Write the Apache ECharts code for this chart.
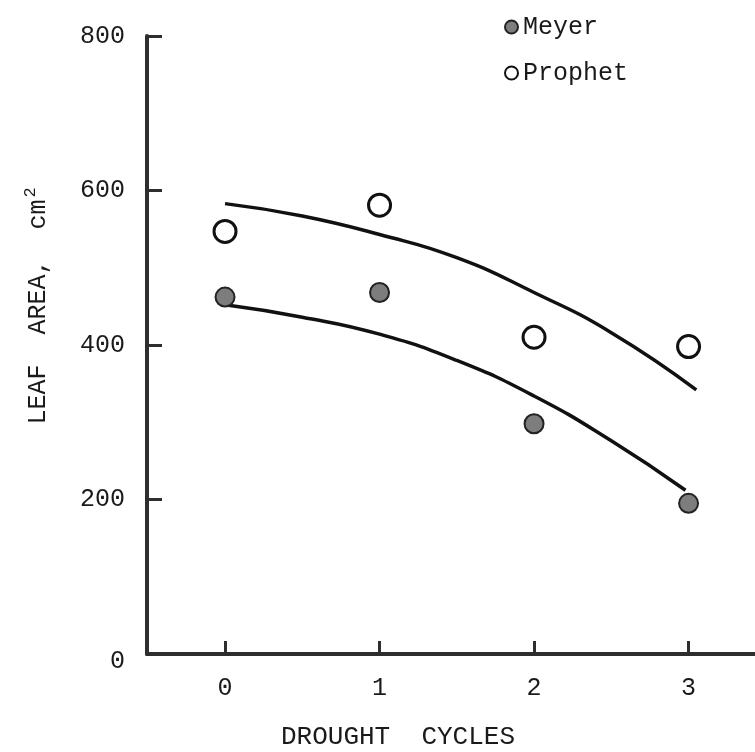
<!DOCTYPE html>
<html>
<head>
<meta charset="utf-8">
<script src="https://cdn.jsdelivr.net/npm/echarts@6/dist/echarts.min.js"></script>
<style>
  html, body { margin: 0; padding: 0; background: #fff; }
  #chart { width: 755px; height: 752px; }
</style>
</head>
<body>
<div id="chart"></div>
<script>
// Drought cycles on the x axis
const cycles = [0, 1, 2, 3];
const xTickLabels = ['0', '1', '2', '3'];
const yTickValues = [0, 200, 400, 600, 800];

// Measured leaf area (cm^2) per cultivar
const meyerArea = [462, 468, 298, 195];
const prophetArea = [547, 581, 410, 398];

// Fitted response curves, sampled along the drought-cycle axis
const meyerFitX = [0, 0.5, 1, 1.5, 2, 2.5, 2.98];
const meyerFitY = [452, 436, 414, 380, 334, 276, 212];
const prophetFitX = [0, 0.5, 1, 1.5, 2, 2.5, 3.05];
const prophetFitY = [583, 567, 543, 513, 468, 416, 342];

const FONT = '"Liberation Mono", "DejaVu Sans Mono", monospace';
const INK = '#1a1a1a';
const AXIS_INK = '#2e2e2e';

const pair = (xs, ys) => xs.map((x, i) => [x, ys[i]]);

const chart = echarts.init(document.getElementById('chart'), null, { renderer: 'canvas' });

chart.setOption({
  animation: false,
  backgroundColor: '#fff',
  grid: { left: 147, right: 0, top: 36, bottom: 98, containLabel: false },
  legend: {
    data: ['Meyer', 'Prophet'],
    orient: 'vertical',
    left: 499,
    top: 9,
    itemWidth: 13,
    itemHeight: 13,
    itemGap: 20,
    icon: 'circle',
    selectedMode: false,
    textStyle: { fontFamily: FONT, fontSize: 25, color: INK, lineHeight: 26 }
  },
  xAxis: {
    type: 'value',
    min: -0.505,
    max: 3.43,
    axisLine: { onZero: false, lineStyle: { color: AXIS_INK, width: 4 } },
    axisTick: {
      inside: true, length: 13, customValues: cycles,
      lineStyle: { color: AXIS_INK, width: 3 }
    },
    axisLabel: {
      customValues: cycles,
      formatter: v => xTickLabels[cycles.indexOf(v)] ?? '',
      margin: 22, fontFamily: FONT, fontSize: 25, color: INK
    },
    splitLine: { show: false }
  },
  yAxis: {
    type: 'value',
    min: yTickValues[0],
    max: yTickValues[yTickValues.length - 1],
    interval: 200,
    axisLine: { onZero: false, lineStyle: { color: AXIS_INK, width: 4 } },
    axisTick: { inside: true, length: 15, lineStyle: { color: AXIS_INK, width: 3 } },
    axisLabel: {
      margin: 22, fontFamily: FONT, fontSize: 25, color: INK,
      // the origin label sits a little below the x axis line
      formatter: v => (v === 0 ? '{low|0}' : String(v)),
      rich: { low: { fontFamily: FONT, fontSize: 25, color: INK, padding: [14, 0, 0, 0] } }
    },
    splitLine: { show: false }
  },
  graphic: [
    {
      type: 'text',
      x: 38, y: 306,
      rotation: Math.PI / 2,
      style: {
        text: '{a|LEAF  AREA,  cm}{s|2}',
        align: 'center',
        verticalAlign: 'middle',
        fill: INK,
        rich: {
          a: { fontFamily: FONT, fontSize: 25, fill: INK },
          s: { fontFamily: FONT, fontSize: 17, fill: INK, padding: [0, 0, 16, 2] }
        }
      }
    },
    {
      type: 'text',
      x: 398, y: 737,
      style: {
        text: 'DROUGHT  CYCLES',
        align: 'center',
        verticalAlign: 'middle',
        fontFamily: FONT, fontSize: 26, fill: INK
      }
    }
  ],
  series: [
    {
      name: 'Meyer fit',
      type: 'line',
      smooth: true,
      symbol: 'none',
      data: pair(meyerFitX, meyerFitY),
      lineStyle: { color: '#111', width: 3.5 },
      z: 2
    },
    {
      name: 'Prophet fit',
      type: 'line',
      smooth: true,
      symbol: 'none',
      data: pair(prophetFitX, prophetFitY),
      lineStyle: { color: '#111', width: 3.5 },
      z: 2
    },
    {
      name: 'Meyer',
      type: 'scatter',
      symbol: 'circle',
      symbolSize: 19,
      data: pair(cycles, meyerArea),
      itemStyle: { color: '#7d7d7d', borderColor: '#222', borderWidth: 2, opacity: 1 },
      z: 5
    },
    {
      name: 'Prophet',
      type: 'scatter',
      symbol: 'circle',
      symbolSize: 22,
      data: pair(cycles, prophetArea),
      itemStyle: { color: '#fff', borderColor: '#111', borderWidth: 3, opacity: 1 },
      z: 5
    }
  ]
});
</script>
</body>
</html>
